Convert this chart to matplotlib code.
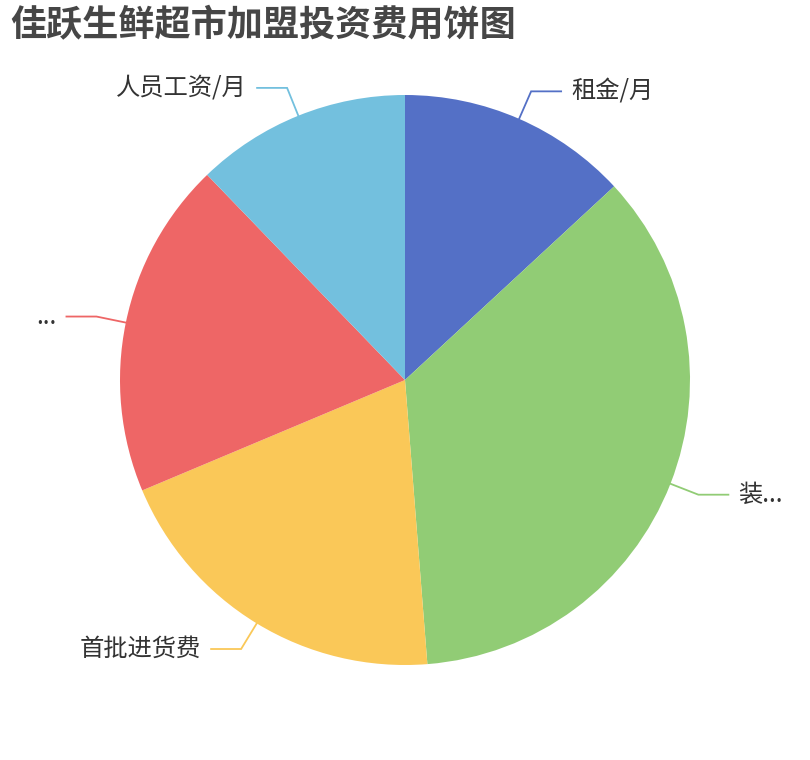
import numpy as np
import matplotlib.pyplot as plt

plt.rcParams["font.family"] = ["Noto Sans CJK SC", "DejaVu Sans"]

# slice data, clockwise from the top
labels = ["租金/月", "装...", "首批进货费", "...", "人员工资/月"]
values = [13.1, 35.6, 19.9, 19.1, 12.2]
colors = ["#5470c6", "#91cc75", "#fac858", "#ee6666", "#73c0de"]

title = "佳跃生鲜超市加盟投资费用饼图"

W, H, R = 810, 760, 285.0

fig = plt.figure(figsize=(W / 100, H / 100), dpi=100)
ax = fig.add_axes([0, 0, 1, 1])

wedges, _ = ax.pie(
    values,
    colors=colors,
    startangle=90,
    counterclock=False,
    radius=1.0,
    wedgeprops=dict(linewidth=0),
)

# pie() sets its own limits, so put ours back afterwards
ax.set_xlim(-W / 2 / R, W / 2 / R)
ax.set_ylim(-380 / R, 380 / R)
ax.set_aspect("equal")
ax.axis("off")

# label lines: radial piece to r=315px, then 30px horizontal
r_elbow = 315 / R
seg2 = 30 / R
gap = 10 / R
for w, lab, col in zip(wedges, labels, colors):
    mid = np.deg2rad((w.theta1 + w.theta2) / 2)
    x0, y0 = np.cos(mid), np.sin(mid)
    x1, y1 = r_elbow * np.cos(mid), r_elbow * np.sin(mid)
    side = 1 if x0 >= 0 else -1
    x2 = x1 + side * seg2
    ax.plot([x0, x1, x2], [y0, y1, y1], color=col, linewidth=1.3,
            solid_joinstyle="miter")
    ax.text(x2 + side * gap, y1, lab, fontsize=17.5, color="#333333",
            ha="left" if side > 0 else "right", va="center")

fig.text(10 / W, 1 - 7 / H, title, fontsize=26, fontweight="bold",
         color="#464646", ha="left", va="top")

fig.savefig("out.png", dpi=100)
